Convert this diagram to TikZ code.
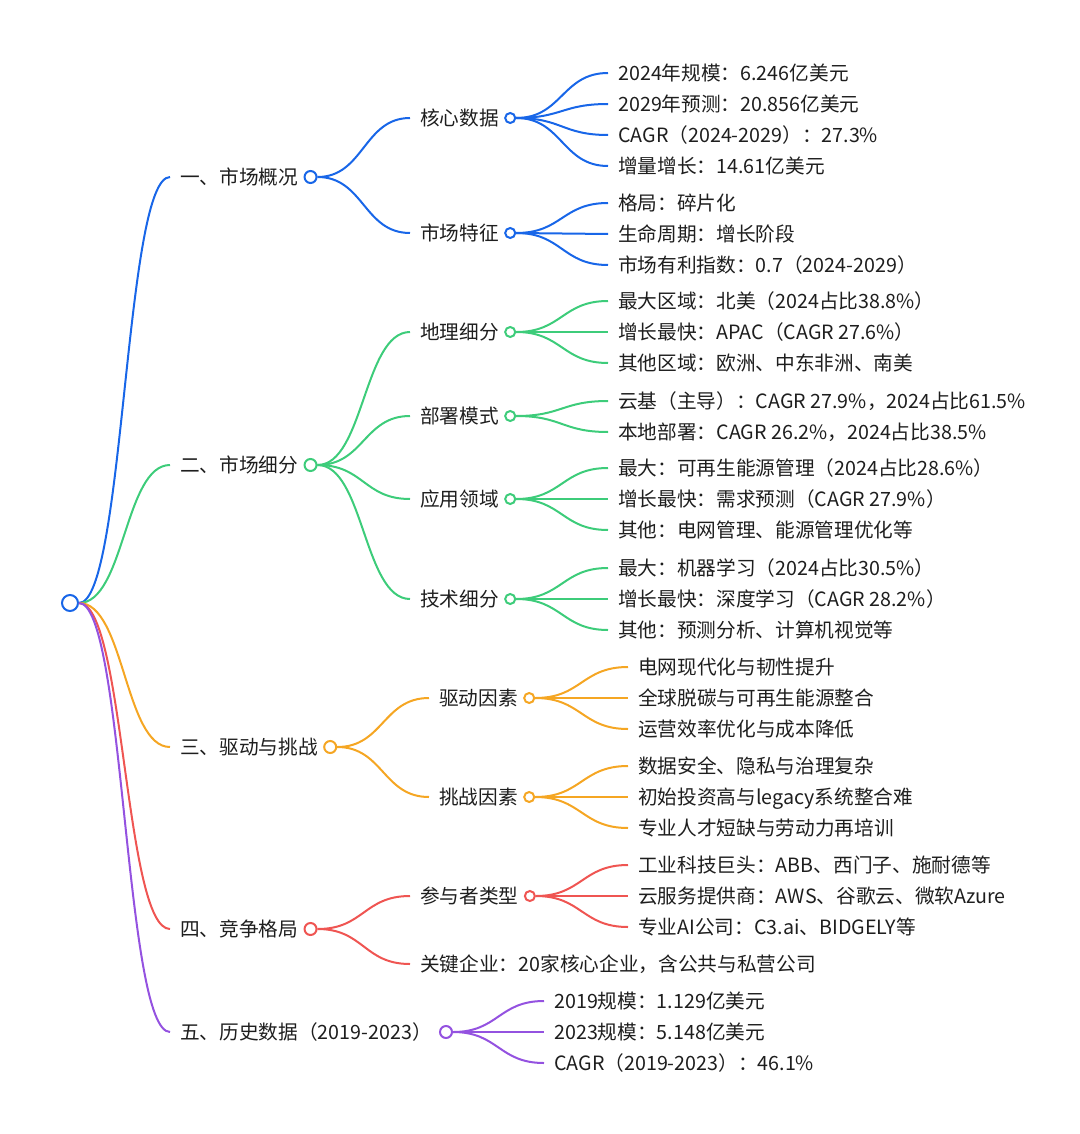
\documentclass[tikz,border=0pt]{standalone}
\usepackage{fontspec}
\setmainfont{Noto Sans CJK SC}
\usetikzlibrary{calc}
\definecolor{cblue}{RGB}{24,102,232}
\definecolor{cgreen}{RGB}{61,204,122}
\definecolor{corange}{RGB}{245,166,35}
\definecolor{cred}{RGB}{239,85,82}
\definecolor{cpurple}{RGB}{148,82,224}
\definecolor{tcol}{RGB}{30,30,30}
\newcommand\mmlink[3]{\draw[#1,lnk] let \p1=(#2), \p2=(#3) in (\p1) .. controls ({0.5*(\x1+\x2)},\y1) and ({0.5*(\x1+\x2)},\y2) .. (\p2);}
\newcommand\mmleaf[6]{\node[txt] (#3) at (#4,#5) {#6};\mmlink{#1}{#2.east}{#3.west}}
\begin{document}
\begin{tikzpicture}[x=0.75pt,y=-0.75pt,
  txt/.style={anchor=west,inner xsep=7.5pt,inner ysep=0pt,text height=12.7pt,text depth=1.5pt,
    font=\fontsize{14.75pt}{17pt}\selectfont,text=tcol},
  dot/.style={circle,draw,fill=white,line width=1.5pt,minimum size=9pt,inner sep=0pt},
  sdot/.style={dot,minimum size=7.5pt},
  lnk/.style={line width=1.5pt}]
\useasboundingbox (0,0) rectangle (1080,1134);

% root
\node[dot,draw=cblue,minimum size=12pt] (root) at (70,603) {};

% ---- Section 1
\node[txt] (s1) at (170,177) {一、市场概况};
\node[dot,draw=cblue] (d1) at ($(s1.east)+(2,0)$) {};
\mmlink{cblue}{root.east}{s1.west}
\node[txt] (a1) at (410,118) {核心数据};
\node[sdot,draw=cblue] (da1) at ($(a1.east)+(1,0)$) {};
\mmlink{cblue}{d1.east}{a1.west}
\mmleaf{cblue}{da1}{a11}{608}{73}{2024年规模：6.246亿美元}
\mmleaf{cblue}{da1}{a12}{608}{104}{2029年预测：20.856亿美元}
\mmleaf{cblue}{da1}{a13}{608}{135}{CAGR（2024-2029）：27.3\%}
\mmleaf{cblue}{da1}{a14}{608}{166}{增量增长：14.61亿美元}
\node[txt] (a2) at (410,233) {市场特征};
\node[sdot,draw=cblue] (da2) at ($(a2.east)+(1,0)$) {};
\mmlink{cblue}{d1.east}{a2.west}
\mmleaf{cblue}{da2}{a21}{608}{203}{格局：碎片化}
\mmleaf{cblue}{da2}{a22}{608}{234}{生命周期：增长阶段}
\mmleaf{cblue}{da2}{a23}{608}{265}{市场有利指数：0.7（2024-2029）}

% ---- Section 2
\node[txt] (s2) at (170,465) {二、市场细分};
\node[dot,draw=cgreen] (d2) at ($(s2.east)+(2,0)$) {};
\mmlink{cgreen}{root.east}{s2.west}
\node[txt] (b1) at (410,332) {地理细分};
\node[sdot,draw=cgreen] (db1) at ($(b1.east)+(1,0)$) {};
\mmlink{cgreen}{d2.east}{b1.west}
\mmleaf{cgreen}{db1}{b11}{608}{301}{最大区域：北美（2024占比38.8\%）}
\mmleaf{cgreen}{db1}{b12}{608}{332}{增长最快：APAC（CAGR 27.6\%）}
\mmleaf{cgreen}{db1}{b13}{608}{363}{其他区域：欧洲、中东非洲、南美}
\node[txt] (b2) at (410,416) {部署模式};
\node[sdot,draw=cgreen] (db2) at ($(b2.east)+(1,0)$) {};
\mmlink{cgreen}{d2.east}{b2.west}
\mmleaf{cgreen}{db2}{b21}{608}{401}{云基（主导）：CAGR 27.9\%，2024占比61.5\%}
\mmleaf{cgreen}{db2}{b22}{608}{432}{本地部署：CAGR 26.2\%，2024占比38.5\%}
\node[txt] (b3) at (410,499) {应用领域};
\node[sdot,draw=cgreen] (db3) at ($(b3.east)+(1,0)$) {};
\mmlink{cgreen}{d2.east}{b3.west}
\mmleaf{cgreen}{db3}{b31}{608}{468}{最大：可再生能源管理（2024占比28.6\%）}
\mmleaf{cgreen}{db3}{b32}{608}{499}{增长最快：需求预测（CAGR 27.9\%）}
\mmleaf{cgreen}{db3}{b33}{608}{530}{其他：电网管理、能源管理优化等}
\node[txt] (b4) at (410,599) {技术细分};
\node[sdot,draw=cgreen] (db4) at ($(b4.east)+(1,0)$) {};
\mmlink{cgreen}{d2.east}{b4.west}
\mmleaf{cgreen}{db4}{b41}{608}{568}{最大：机器学习（2024占比30.5\%）}
\mmleaf{cgreen}{db4}{b42}{608}{599}{增长最快：深度学习（CAGR 28.2\%）}
\mmleaf{cgreen}{db4}{b43}{608}{630}{其他：预测分析、计算机视觉等}

% ---- Section 3
\node[txt] (s3) at (170,747) {三、驱动与挑战};
\node[dot,draw=corange] (d3) at ($(s3.east)+(2,0)$) {};
\mmlink{corange}{root.east}{s3.west}
\node[txt] (e1) at (429,698) {驱动因素};
\node[sdot,draw=corange] (de1) at ($(e1.east)+(1,0)$) {};
\mmlink{corange}{d3.east}{e1.west}
\mmleaf{corange}{de1}{e11}{628}{667}{电网现代化与韧性提升}
\mmleaf{corange}{de1}{e12}{628}{698}{全球脱碳与可再生能源整合}
\mmleaf{corange}{de1}{e13}{628}{729}{运营效率优化与成本降低}
\node[txt] (e2) at (429,797) {挑战因素};
\node[sdot,draw=corange] (de2) at ($(e2.east)+(1,0)$) {};
\mmlink{corange}{d3.east}{e2.west}
\mmleaf{corange}{de2}{e21}{628}{766}{数据安全、隐私与治理复杂}
\mmleaf{corange}{de2}{e22}{628}{797}{初始投资高与legacy系统整合难}
\mmleaf{corange}{de2}{e23}{628}{828}{专业人才短缺与劳动力再培训}

% ---- Section 4
\node[txt] (s4) at (170,929) {四、竞争格局};
\node[dot,draw=cred] (d4) at ($(s4.east)+(2,0)$) {};
\mmlink{cred}{root.east}{s4.west}
\node[txt] (f1) at (410,896) {参与者类型};
\node[sdot,draw=cred] (df1) at ($(f1.east)+(1,0)$) {};
\mmlink{cred}{d4.east}{f1.west}
\mmleaf{cred}{df1}{f11}{628}{865}{工业科技巨头：ABB、西门子、施耐德等}
\mmleaf{cred}{df1}{f12}{628}{896}{云服务提供商：AWS、谷歌云、微软Azure}
\mmleaf{cred}{df1}{f13}{628}{927}{专业AI公司：C3.ai、BIDGELY等}
\mmleaf{cred}{d4}{f2}{410}{964}{关键企业：20家核心企业，含公共与私营公司}

% ---- Section 5
\node[txt] (s5) at (170,1032) {五、历史数据（2019-2023）};
\node[dot,draw=cpurple] (d5) at ($(s5.east)+(4,0)$) {};
\mmlink{cpurple}{root.east}{s5.west}
\mmleaf{cpurple}{d5}{g1}{544}{1001}{2019规模：1.129亿美元}
\mmleaf{cpurple}{d5}{g2}{544}{1032}{2023规模：5.148亿美元}
\mmleaf{cpurple}{d5}{g3}{544}{1063}{CAGR（2019-2023）：46.1\%}
\end{tikzpicture}
\end{document}
